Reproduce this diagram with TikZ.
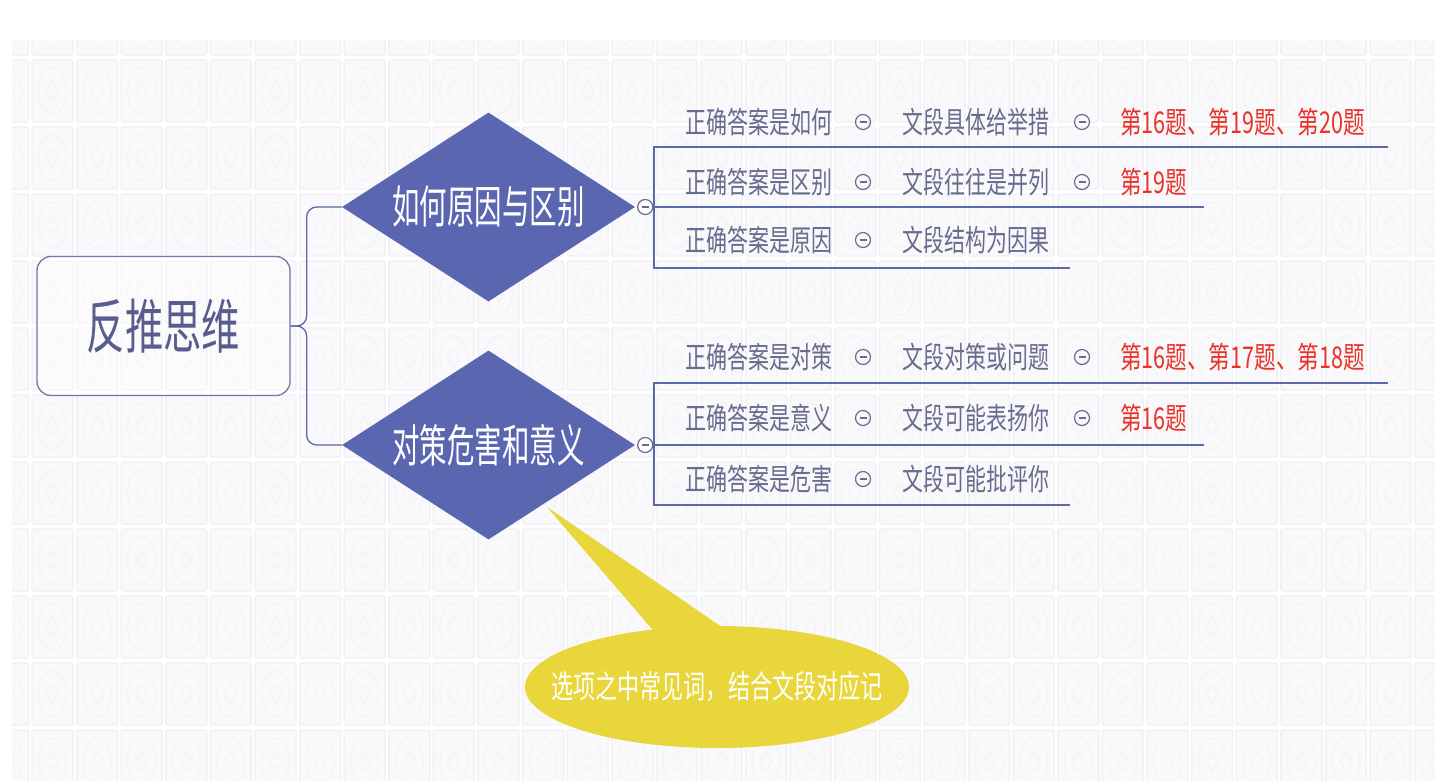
\documentclass[tikz,border=0pt]{standalone}
\usepackage{fontspec}
\usepackage{graphicx}
\usetikzlibrary{shapes.geometric}
\newfontfamily\cjk{Noto Sans CJK SC}
\definecolor{diafill}{RGB}{90,103,176}
\definecolor{linec}{RGB}{92,104,170}
\definecolor{rootline}{RGB}{112,120,172}
\definecolor{roottext}{RGB}{88,93,142}
\definecolor{rowgray}{RGB}{104,108,142}
\definecolor{qred}{RGB}{232,50,42}
\definecolor{callyellow}{RGB}{232,214,58}
\definecolor{tileline}{RGB}{240,240,245}
\definecolor{tilefill}{RGB}{249,249,251}
\definecolor{tilein}{RGB}{243,243,247}
\newcommand{\narrowtxt}[2][0.7]{\scalebox{#1}[1]{#2}}
\tikzset{
  tile/.style={draw=tileline, fill=tilefill, line width=1.4pt, rounded corners=2pt},
  tilein/.style={draw=tilein, line width=1.0pt},
  rootbox/.style={draw=rootline, line width=1.3pt, rounded corners=14pt, fill=white, fill opacity=0.35, text opacity=1,
    minimum width=253pt, minimum height=139pt, inner sep=0pt, text=roottext,
    font=\cjk\fontsize{59}{59}\selectfont},
  dia/.style={diamond, aspect=1.55, fill=diafill, draw=none, minimum width=293pt, minimum height=189pt, inner sep=0pt,
    text=white, font=\cjk\fontsize{45}{45}\selectfont},
  conn/.style={draw=linec, line width=1.3pt},
  rowtext/.style={anchor=west, inner sep=0pt, text=rowgray, font=\cjk\fontsize{30}{30}\selectfont},
  redtext/.style={anchor=west, inner sep=0pt, text=qred, font=\cjk\fontsize{30}{30}\selectfont},
  collapse/.style={circle, draw=rowgray, line width=1.2pt, minimum size=15pt, inner sep=0pt,
    path picture={\draw[rowgray, line width=1.1pt] ([xshift=-3.5pt]path picture bounding box.center) -- ([xshift=3.5pt]path picture bounding box.center);}},
  calltext/.style={inner sep=0pt, text=white, font=\cjk\fontsize{32}{32}\selectfont},
}
\begin{document}
\begin{tikzpicture}[x=1pt,y=-1pt]
\useasboundingbox (0,0) rectangle (1435,780);
\fill[white] (0,0) rectangle (1435,780);
% background pattern
\begin{scope}
\clip (12,40) rectangle (1435,780);
\foreach \i in {-1,...,31} {
  \foreach \j in {-1,...,10} {
    \path[tile] ({32+44.6*\i},{60+67*\j}) rectangle ++(41,62);
    \path[tilein] ({52.5+44.6*\i},{91+67*\j}) ellipse [x radius=14, y radius=23];
    \path[tilein] ({52.5+44.6*\i},{81+67*\j}) -- ++(6,10) -- ++(-6,10) -- ++(-6,-10) -- cycle;
  }
}
\end{scope}

% root
\node[rootbox] (root) at (163.5,326) {\narrowtxt[0.65]{反推思维}};

% diamonds
\node[dia] (d1) at (488.5,207) {\narrowtxt[0.61]{如何原因与区别}};
\node[dia] (d2) at (488.5,445) {\narrowtxt[0.61]{对策危害和意义}};

\draw[conn, rounded corners=10pt] (root.east) -- ++(16,0) |- (d1.west);
\draw[conn, rounded corners=10pt] (root.east) -- ++(16,0) |- (d2.west);

% collapse circles at tips
\node[collapse, fill=white] (k1) at ([xshift=10pt]d1.east) {};
\node[collapse, fill=white] (k2) at ([xshift=10pt]d2.east) {};

% bracket 1
\coordinate (t1) at (654,147);
\coordinate (b1) at (654,268);
\coordinate (u11) at (1388,147);
\coordinate (u12) at (1204,207);
\coordinate (u13) at (1070,268);
\draw[conn] (k1.east) -- (u12);
\draw[conn] (u11) -- (t1) -- (b1) -- (u13);

% bracket 2
\coordinate (t2) at (654,383);
\coordinate (b2) at (654,505);
\coordinate (u21) at (1388,383);
\coordinate (u22) at (1204,445);
\coordinate (u23) at (1070,505);
\draw[conn] (k2.east) -- (u22);
\draw[conn] (u21) -- (t2) -- (b2) -- (u23);

% rows group 1
\node[rowtext] (a11) at (685,122) {\narrowtxt{正确答案是如何}};
\node[collapse] (o11) at (863,122) {};
\node[rowtext] (b11) at (902,122) {\narrowtxt{文段具体给举措}};
\node[collapse] (p11) at (1082,122) {};
\node[redtext] (c11) at (1120,122) {\narrowtxt[0.72]{第16题、第19题、第20题}};

\node[rowtext] (a12) at (685,182) {\narrowtxt{正确答案是区别}};
\node[collapse] (o12) at (863,182) {};
\node[rowtext] (b12) at (902,182) {\narrowtxt{文段往往是并列}};
\node[collapse] (p12) at (1082,182) {};
\node[redtext] (c12) at (1120,182) {\narrowtxt[0.72]{第19题}};

\node[rowtext] (a13) at (685,240) {\narrowtxt{正确答案是原因}};
\node[collapse] (o13) at (863,240) {};
\node[rowtext] (b13) at (902,240) {\narrowtxt{文段结构为因果}};

% rows group 2
\node[rowtext] (a21) at (685,357) {\narrowtxt{正确答案是对策}};
\node[collapse] (o21) at (863,357) {};
\node[rowtext] (b21) at (902,357) {\narrowtxt{文段对策或问题}};
\node[collapse] (p21) at (1082,357) {};
\node[redtext] (c21) at (1120,357) {\narrowtxt[0.72]{第16题、第17题、第18题}};

\node[rowtext] (a22) at (685,418) {\narrowtxt{正确答案是意义}};
\node[collapse] (o22) at (863,418) {};
\node[rowtext] (b22) at (902,418) {\narrowtxt{文段可能表扬你}};
\node[collapse] (p22) at (1082,418) {};
\node[redtext] (c22) at (1120,418) {\narrowtxt[0.72]{第16题}};

\node[rowtext] (a23) at (685,479) {\narrowtxt{正确答案是危害}};
\node[collapse] (o23) at (863,479) {};
\node[rowtext] (b23) at (902,479) {\narrowtxt{文段可能批评你}};

% callout
\coordinate (tip) at (547,507);
\fill[callyellow] (tip) -- (658,636) -- (732,634) -- cycle;
\fill[callyellow] (717,687) ellipse [x radius=192, y radius=61];
\node[calltext] (call) at (717,687) {\narrowtxt[0.69]{选项之中常见词，结合文段对应记}};
\end{tikzpicture}
\end{document}
